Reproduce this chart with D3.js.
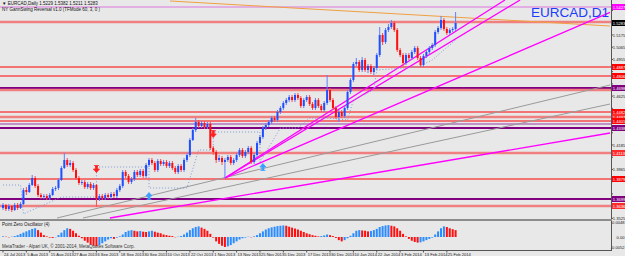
<!DOCTYPE html>
<html>
<head>
<meta charset="utf-8">
<script src="https://cdn.jsdelivr.net/npm/d3@7/dist/d3.min.js"></script>
<style>
  body { margin: 0; background: #e8e8e8; }
  #chart { width: 625px; height: 256px; }
  text { font-family: "Liberation Sans", Arial, sans-serif; }
</style>
</head>
<body>
<div id="chart"></div>
<script>
// EURCAD daily bars, 24 Jul 2013 .. end of Feb 2014
var opens = [
    1.3618, 1.3645, 1.3609, 1.3636, 1.3600, 1.3645, 1.3618, 1.3654, 1.3780, 1.3762,
    1.3825, 1.3888, 1.3816, 1.3735, 1.3717, 1.3726, 1.3708, 1.3735, 1.3789, 1.3798,
    1.3870, 1.3978, 1.4050, 1.4005, 1.4023, 1.3960, 1.3888, 1.3843, 1.3852, 1.3807,
    1.3834, 1.3798, 1.3825, 1.3699, 1.3726, 1.3708, 1.3735, 1.3717, 1.3744, 1.3726,
    1.3780, 1.3816, 1.3942, 1.3906, 1.3852, 1.3879, 1.3942, 1.3915, 1.3951, 1.3906,
    1.4005, 1.4050, 1.4023, 1.3960, 1.4041, 1.4014, 1.4032, 1.3996, 1.4023, 1.3978,
    1.3942, 1.3996, 1.3960, 1.4050, 1.4095, 1.4230, 1.4320, 1.4392, 1.4356, 1.4383,
    1.4347, 1.4374, 1.4158, 1.4122, 1.4050, 1.4068, 1.4032, 1.4050, 1.4077, 1.4023,
    1.4050, 1.4095, 1.4140, 1.4086, 1.4122, 1.4158, 1.4032, 1.4095, 1.4203, 1.4257,
    1.4338, 1.4365, 1.4392, 1.4428, 1.4410, 1.4482, 1.4518, 1.4563, 1.4590, 1.4617,
    1.4590, 1.4635, 1.4608, 1.4536, 1.4590, 1.4617, 1.4554, 1.4518, 1.4590, 1.4536,
    1.4500, 1.4563, 1.4680, 1.4590, 1.4518, 1.4437, 1.4482, 1.4446, 1.4518, 1.4662,
    1.4770, 1.4914, 1.4932, 1.4860, 1.4950, 1.4860, 1.4896, 1.4842, 1.4878, 1.4995,
    1.5175, 1.5112, 1.5220, 1.5247, 1.5283, 1.5220, 1.5040, 1.4995, 1.4923, 1.4995,
    1.4968, 1.5022, 1.5058, 1.4968, 1.4905, 1.4986, 1.5022, 1.5058, 1.5085, 1.5202,
    1.5238, 1.5310, 1.5229, 1.5193, 1.5220, 1.5229
];
var highs = [
    1.3663, 1.3654, 1.3654, 1.3645, 1.3663, 1.3663, 1.3672, 1.3798, 1.3807, 1.3843,
    1.3915, 1.3906, 1.3834, 1.3753, 1.3744, 1.3744, 1.3753, 1.3807, 1.3816, 1.3888,
    1.3996, 1.4113, 1.4068, 1.4050, 1.4041, 1.3978, 1.3906, 1.3870, 1.3870, 1.3852,
    1.3852, 1.3843, 1.3834, 1.3744, 1.3744, 1.3753, 1.3753, 1.3762, 1.3762, 1.3798,
    1.3834, 1.3960, 1.3960, 1.3924, 1.3897, 1.3960, 1.3960, 1.3969, 1.3969, 1.4023,
    1.4068, 1.4068, 1.4041, 1.4059, 1.4059, 1.4050, 1.4050, 1.4041, 1.4041, 1.3996,
    1.4014, 1.4014, 1.4068, 1.4113, 1.4248, 1.4338, 1.4428, 1.4410, 1.4401, 1.4401,
    1.4392, 1.4392, 1.4176, 1.4140, 1.4095, 1.4086, 1.4068, 1.4095, 1.4095, 1.4068,
    1.4113, 1.4158, 1.4158, 1.4140, 1.4176, 1.4176, 1.4113, 1.4221, 1.4275, 1.4356,
    1.4383, 1.4410, 1.4446, 1.4446, 1.4500, 1.4536, 1.4581, 1.4608, 1.4635, 1.4635,
    1.4653, 1.4653, 1.4626, 1.4608, 1.4635, 1.4635, 1.4572, 1.4608, 1.4608, 1.4554,
    1.4581, 1.4815, 1.4698, 1.4608, 1.4536, 1.4500, 1.4500, 1.4536, 1.4680, 1.4788,
    1.4932, 1.4968, 1.4950, 1.4977, 1.4968, 1.4914, 1.4914, 1.4896, 1.5013, 1.5247,
    1.5193, 1.5238, 1.5274, 1.5310, 1.5301, 1.5238, 1.5058, 1.5013, 1.5013, 1.5013,
    1.5040, 1.5076, 1.5076, 1.4986, 1.5004, 1.5040, 1.5076, 1.5103, 1.5220, 1.5256,
    1.5346, 1.5328, 1.5247, 1.5238, 1.5247, 1.5382
];
var lows = [
    1.3600, 1.3591, 1.3591, 1.3582, 1.3591, 1.3600, 1.3609, 1.3645, 1.3735, 1.3753,
    1.3816, 1.3798, 1.3717, 1.3699, 1.3699, 1.3690, 1.3690, 1.3726, 1.3771, 1.3780,
    1.3861, 1.3969, 1.3987, 1.3987, 1.3942, 1.3870, 1.3825, 1.3825, 1.3789, 1.3789,
    1.3780, 1.3780, 1.3627, 1.3681, 1.3690, 1.3690, 1.3699, 1.3699, 1.3708, 1.3708,
    1.3762, 1.3798, 1.3888, 1.3834, 1.3834, 1.3861, 1.3897, 1.3897, 1.3888, 1.3888,
    1.3987, 1.4005, 1.3942, 1.3942, 1.3996, 1.3996, 1.3978, 1.3978, 1.3960, 1.3924,
    1.3924, 1.3942, 1.3942, 1.4032, 1.4077, 1.4221, 1.4302, 1.4338, 1.4338, 1.4329,
    1.4329, 1.4140, 1.4095, 1.4023, 1.4032, 1.4005, 1.3888, 1.4032, 1.4005, 1.4005,
    1.4032, 1.4077, 1.4068, 1.4068, 1.4104, 1.4014, 1.4014, 1.4077, 1.4185, 1.4239,
    1.4320, 1.4347, 1.4374, 1.4392, 1.4392, 1.4464, 1.4500, 1.4545, 1.4572, 1.4572,
    1.4572, 1.4590, 1.4518, 1.4518, 1.4572, 1.4536, 1.4500, 1.4500, 1.4518, 1.4482,
    1.4482, 1.4545, 1.4572, 1.4500, 1.4419, 1.4392, 1.4428, 1.4428, 1.4500, 1.4644,
    1.4752, 1.4896, 1.4842, 1.4842, 1.4842, 1.4833, 1.4824, 1.4815, 1.4860, 1.4977,
    1.5085, 1.5094, 1.5202, 1.5229, 1.5202, 1.5022, 1.4977, 1.4896, 1.4905, 1.4950,
    1.4950, 1.5004, 1.4950, 1.4887, 1.4887, 1.4968, 1.5004, 1.5040, 1.5067, 1.5184,
    1.5220, 1.5211, 1.5175, 1.5175, 1.5202, 1.5211
];
var closes = [
    1.3645, 1.3609, 1.3636, 1.3600, 1.3645, 1.3618, 1.3654, 1.3780, 1.3762, 1.3825,
    1.3888, 1.3816, 1.3735, 1.3717, 1.3726, 1.3708, 1.3735, 1.3789, 1.3798, 1.3870,
    1.3978, 1.4050, 1.4005, 1.4023, 1.3960, 1.3888, 1.3843, 1.3852, 1.3807, 1.3834,
    1.3798, 1.3825, 1.3699, 1.3726, 1.3708, 1.3735, 1.3717, 1.3744, 1.3726, 1.3780,
    1.3816, 1.3942, 1.3906, 1.3852, 1.3879, 1.3942, 1.3915, 1.3951, 1.3906, 1.4005,
    1.4050, 1.4023, 1.3960, 1.4041, 1.4014, 1.4032, 1.3996, 1.4023, 1.3978, 1.3942,
    1.3996, 1.3960, 1.4050, 1.4095, 1.4230, 1.4320, 1.4392, 1.4356, 1.4383, 1.4347,
    1.4374, 1.4158, 1.4122, 1.4050, 1.4068, 1.4032, 1.4050, 1.4077, 1.4023, 1.4050,
    1.4095, 1.4140, 1.4086, 1.4122, 1.4158, 1.4032, 1.4095, 1.4203, 1.4257, 1.4338,
    1.4365, 1.4392, 1.4428, 1.4410, 1.4482, 1.4518, 1.4563, 1.4590, 1.4617, 1.4590,
    1.4635, 1.4608, 1.4536, 1.4590, 1.4617, 1.4554, 1.4518, 1.4590, 1.4536, 1.4500,
    1.4563, 1.4680, 1.4590, 1.4518, 1.4437, 1.4482, 1.4446, 1.4518, 1.4662, 1.4770,
    1.4914, 1.4932, 1.4860, 1.4950, 1.4860, 1.4896, 1.4842, 1.4878, 1.4995, 1.5175,
    1.5112, 1.5220, 1.5247, 1.5283, 1.5220, 1.5040, 1.4995, 1.4923, 1.4995, 1.4968,
    1.5022, 1.5058, 1.4968, 1.4905, 1.4986, 1.5022, 1.5058, 1.5085, 1.5202, 1.5238,
    1.5310, 1.5229, 1.5193, 1.5220, 1.5229, 1.5283
];

// Point Zero Oscillator (4)
var oscValues = [
    0.0002, 0.0001, -0.0001, 0.0001, 0.0003, 0.0006, 0.0010, 0.0014, 0.0018, 0.0022,
    0.0026, 0.0028, 0.0022, 0.0014, 0.0006, 0.0002, -0.0002, -0.0003, -0.0001, 0.0006,
    0.0014, 0.0022, 0.0028, 0.0026, 0.0020, 0.0012, 0.0004, -0.0004, -0.0012, -0.0018,
    -0.0024, -0.0028, -0.0030, -0.0026, -0.0020, -0.0014, -0.0008, -0.0004, -0.0006, -0.0002,
    0.0002, 0.0008, 0.0016, 0.0020, 0.0022, 0.0020, 0.0018, 0.0019, 0.0017, 0.0016,
    0.0018, 0.0020, 0.0017, 0.0014, 0.0012, 0.0008, 0.0006, 0.0004, 0.0003, -0.0001,
    0.0001, 0.0003, 0.0008, 0.0014, 0.0022, 0.0028, 0.0032, 0.0034, 0.0030, 0.0026,
    0.0020, 0.0010, -0.0002, -0.0014, -0.0022, -0.0028, -0.0032, -0.0030, -0.0026, -0.0020,
    -0.0014, -0.0008, -0.0004, -0.0002, 0.0001, -0.0001, 0.0002, 0.0006, 0.0012, 0.0018,
    0.0024, 0.0028, 0.0031, 0.0033, 0.0035, 0.0036, 0.0037, 0.0036, 0.0033, 0.0030,
    0.0027, 0.0024, 0.0020, 0.0016, 0.0012, 0.0009, 0.0006, 0.0004, 0.0002, 0.0003,
    0.0005, 0.0008, 0.0006, 0.0003, -0.0003, -0.0010, -0.0014, -0.0010, -0.0004, 0.0004,
    0.0012, 0.0020, 0.0022, 0.0021, 0.0020, 0.0018, 0.0019, 0.0022, 0.0026, 0.0032,
    0.0035, 0.0037, 0.0038, 0.0036, 0.0034, 0.0028, 0.0020, 0.0010, 0.0002, -0.0006,
    -0.0012, -0.0016, -0.0018, -0.0017, -0.0014, -0.0010, -0.0006, -0.0002, 0.0008, 0.0018,
    0.0028, 0.0034, 0.0032, 0.0028, 0.0025, 0.0022
];

// GannSwing stepped line (bar index, price)
var swingIndex = [0, 6, 7, 10, 20, 32, 32, 50, 50, 63, 67, 72, 72, 88, 88, 95, 101, 105, 111, 118, 120, 127, 128, 142, 147, 155];
var swingPrice = [1.3825, 1.3825, 1.3564, 1.3600, 1.3717, 1.3717, 1.3987, 1.3987, 1.3798, 1.3798,
    1.4140, 1.4140, 1.4302, 1.4302, 1.4032, 1.4338, 1.4338, 1.4428, 1.4428, 1.4410,
    1.4590, 1.4680, 1.4860, 1.4887, 1.4950, 1.5130];

// swing arrows
var arrowIndex = [32, 50, 72, 89];
var arrowPrice = [1.3969, 1.3726, 1.4284, 1.3987];
var arrowDir = ["down", "up", "down", "up"];

// horizontal levels
var levelPrices = [1.5427, 1.5292, 1.4887, 1.4806, 1.4698, 1.4680, 1.4482, 1.4437, 1.4401, 1.4374, 1.4338, 1.4113, 1.3879, 1.3699, 1.3636];
var levelKinds = ["violet", "salmon", "red", "red", "purple", "salmon", "red", "salmon", "red", "lilac", "purple", "salmon", "red", "purple", "salmon"];

// trend lines (from bar/price to bar/price)
var trendFromIndex = [18.5, 27.4, 57.2, 76, 76, 76, 36.6];
var trendFromPrice = [1.3528, 1.3528, 1.5481, 1.3888, 1.3888, 1.3888, 1.3528];
var trendToIndex = [207.9, 207.9, 207.9, 171.9, 177.1, 207.9, 207.9];
var trendToPrice = [1.4725, 1.4554, 1.5256, 1.5490, 1.5490, 1.5378, 1.4293];
var trendKinds = ["gray", "gray", "orange", "magenta", "magenta", "magenta", "magenta"];

var priceTicks = [1.5395, 1.5285, 1.5175, 1.5065, 1.4955, 1.4845, 1.4735, 1.4625, 1.4515, 1.4405, 1.4295, 1.4185, 1.4075, 1.3965, 1.3855, 1.3745, 1.3635, 1.3525];
var oscTicks = [0.0048, 0, -0.0052];
var oscTickText = ["0.0048", "0.00", "-0.0052"];

var dateIndex = [0, 8, 16, 24, 32, 40, 48, 56, 64, 72, 80, 88, 96, 104, 112, 120, 128, 136, 144, 152];
var dateLabels = ["24 Jul 2013", "5 Aug 2013", "15 Aug 2013", "27 Aug 2013", "6 Sep 2013", "18 Sep 2013",
    "30 Sep 2013", "10 Oct 2013", "22 Oct 2013", "1 Nov 2013", "13 Nov 2013", "25 Nov 2013", "5 Dec 2013",
    "17 Dec 2013", "30 Dec 2013", "10 Jan 2014", "22 Jan 2014", "3 Feb 2014", "13 Feb 2014", "25 Feb 2014"];

var levelStyle = {
    red: { stroke: "#ff0000", width: 1, label: "#ff0000" },
    salmon: { stroke: "#f08080", width: 2.5, label: "#ff2a2a" },
    purple: { stroke: "#800080", width: 2, label: "#800080" },
    lilac: { stroke: "#c090c8", width: 2, label: "#8a2a8a" },
    violet: { stroke: "#dd77dd", width: 1, label: "#ff00ff" }
};
var trendStyle = {
    gray: { stroke: "#9a9a9a", width: 1 },
    orange: { stroke: "#f0a040", width: 1 },
    magenta: { stroke: "#ff00ff", width: 1.3 }
};

function drawChart() {
    var width = 625, height = 256;
    var plotRight = 611, mainBottom = 219, oscBottom = 250;
    var fmt = d3.format(".4f");
    var small = 4.1;

    var svg = d3.select("#chart").append("svg")
        .attr("width", width)
        .attr("height", height);

    svg.append("rect").attr("width", width).attr("height", height).attr("fill", "#e8e8e8");

    var xScale = d3.scaleLinear().domain([0, 155]).range([3, 455.6]);
    var yScale = d3.scaleLinear().domain([1.3528, 1.5472]).range([218, 2]);
    var oscScale = d3.scaleLinear().domain([-0.0052, 0.0048]).range([253.25, 222]);

    svg.append("clipPath").attr("id", "mainClip")
        .append("rect").attr("x", 0).attr("y", 0).attr("width", plotRight).attr("height", mainBottom);
    var main = svg.append("g").attr("clip-path", "url(#mainClip)");

    // levels
    main.selectAll(".level")
        .data(levelPrices)
        .enter()
        .append("line")
        .attr("x1", 0).attr("x2", plotRight)
        .attr("y1", d => yScale(d)).attr("y2", d => yScale(d))
        .attr("stroke", (d, i) => levelStyle[levelKinds[i]].stroke)
        .attr("stroke-width", (d, i) => levelStyle[levelKinds[i]].width);

    // trend lines
    main.selectAll(".trend")
        .data(trendKinds)
        .enter()
        .append("line")
        .attr("x1", (d, i) => xScale(trendFromIndex[i]))
        .attr("y1", (d, i) => yScale(trendFromPrice[i]))
        .attr("x2", (d, i) => xScale(trendToIndex[i]))
        .attr("y2", (d, i) => yScale(trendToPrice[i]))
        .attr("stroke", d => trendStyle[d].stroke)
        .attr("stroke-width", d => trendStyle[d].width);

    // swing dotted line
    var swingLine = d3.line()
        .x(d => xScale(d))
        .y((d, i) => yScale(swingPrice[i]));
    main.append("path")
        .attr("d", swingLine(swingIndex))
        .attr("fill", "none")
        .attr("stroke", "#7f9cd6")
        .attr("stroke-width", 1)
        .attr("stroke-dasharray", "1,2");

    // candles
    var bars = main.selectAll(".bar")
        .data(closes)
        .enter()
        .append("g");
    bars.append("rect")
        .attr("x", (d, i) => xScale(i) - 0.5)
        .attr("width", 1)
        .attr("y", (d, i) => yScale(highs[i]))
        .attr("height", (d, i) => yScale(lows[i]) - yScale(highs[i]))
        .attr("fill", (d, i) => d >= opens[i] ? "#5f7fff" : "#ff4a4a");
    bars.append("rect")
        .attr("x", (d, i) => xScale(i) - 1)
        .attr("width", 2)
        .attr("y", (d, i) => yScale(Math.max(d, opens[i])))
        .attr("height", (d, i) => Math.max(1, Math.abs(yScale(d) - yScale(opens[i]))))
        .attr("fill", (d, i) => d >= opens[i] ? "#1f4fff" : "#ff1010");

    // arrows
    main.selectAll(".arrow")
        .data(arrowIndex)
        .enter()
        .append("path")
        .attr("transform", (d, i) => "translate(" + xScale(d) + "," + yScale(arrowPrice[i]) + ")" + (arrowDir[i] === "up" ? " rotate(180)" : ""))
        .attr("d", "M-2.5,-3.5 L2.5,-3.5 M-1,-3 L1,-3 L1,0 L3,0 L0,3.5 L-3,0 L-1,0 Z")
        .attr("fill", (d, i) => arrowDir[i] === "up" ? "#3aa0ff" : "#ff2020")
        .attr("stroke", (d, i) => arrowDir[i] === "up" ? "#3aa0ff" : "#ff2020")
        .attr("stroke-width", 0.8);

    // panel frames
    svg.append("line").attr("x1", plotRight + 0.5).attr("x2", plotRight + 0.5).attr("y1", 0).attr("y2", oscBottom)
        .attr("stroke", "#555").attr("stroke-width", 1);
    svg.append("rect").attr("x", 0).attr("y", mainBottom).attr("width", plotRight + 1).attr("height", 2).attr("fill", "#8c8c8c");
    svg.append("line").attr("x1", 0).attr("x2", plotRight + 1).attr("y1", oscBottom + 0.5).attr("y2", oscBottom + 0.5)
        .attr("stroke", "#555");

    // price axis ticks (the ones hidden under a level tag are skipped)
    var tagYs = levelPrices.concat([closes[closes.length - 1]]).map(p => yScale(p));
    var visibleTicks = priceTicks.filter(p => tagYs.every(t => Math.abs(t - yScale(p)) > 5.5));
    var axis = svg.append("g");
    axis.selectAll(".ptick")
        .data(visibleTicks)
        .enter()
        .append("text")
        .attr("x", 612.8)
        .attr("y", d => yScale(d) + 1.5)
        .attr("font-size", small)
        .attr("fill", "#222")
        .text(d => fmt(d));
    axis.selectAll(".ptickline")
        .data(priceTicks)
        .enter()
        .append("line")
        .attr("x1", plotRight).attr("x2", plotRight + 2)
        .attr("y1", d => yScale(d)).attr("y2", d => yScale(d))
        .attr("stroke", "#555");

    // level tags on the axis, skipping ones that sit on top of a previous tag
    var shownTags = [];
    levelPrices.forEach(function(p, i) {
        var y = yScale(p);
        if (shownTags.every(s => Math.abs(s.y - y) >= 3.5) && Math.abs(y - yScale(closes[closes.length - 1])) >= 3.5) {
            shownTags.push({ y: y, price: p, kind: levelKinds[i] });
        }
    });
    var tags = axis.selectAll(".tag")
        .data(shownTags)
        .enter()
        .append("g")
        .attr("transform", d => "translate(" + (plotRight + 1) + "," + d.y + ")");
    tags.append("rect").attr("x", 0).attr("y", -3).attr("width", 13).attr("height", 6)
        .attr("fill", d => levelStyle[d.kind].label);
    tags.append("text").attr("x", 0.8).attr("y", 1.5).attr("font-size", small)
        .attr("fill", "#fff").text(d => fmt(d.price));

    // current price tag
    var lastClose = closes[closes.length - 1];
    var bid = axis.append("g").attr("transform", "translate(" + (plotRight + 1) + "," + yScale(lastClose) + ")");
    bid.append("rect").attr("x", 0).attr("y", -3).attr("width", 13).attr("height", 6).attr("fill", "#000");
    bid.append("text").attr("x", 0.8).attr("y", 1.5).attr("font-size", small)
        .attr("fill", "#fff").text(fmt(lastClose));

    // oscillator
    svg.selectAll(".osc")
        .data(oscValues)
        .enter()
        .append("rect")
        .attr("x", (d, i) => xScale(i) - 1)
        .attr("width", 2)
        .attr("y", d => Math.min(oscScale(d), oscScale(0)))
        .attr("height", d => Math.abs(oscScale(d) - oscScale(0)))
        .attr("fill", (d, i) => (i > 0 && d < oscValues[i - 1]) ? "#ff1010" : "#2a8cff");

    axis.selectAll(".otick")
        .data(oscTicks)
        .enter()
        .append("text")
        .attr("x", 624.5)
        .attr("text-anchor", "end")
        .attr("y", d => Math.min(oscScale(d), 247.5) + 1.5)
        .attr("font-size", small)
        .attr("fill", "#222")
        .text((d, i) => oscTickText[i]);

    // date axis
    var dates = svg.append("g");
    dates.selectAll(".dtick")
        .data(dateIndex)
        .enter()
        .append("line")
        .attr("x1", d => xScale(d)).attr("x2", d => xScale(d))
        .attr("y1", oscBottom).attr("y2", oscBottom + 2.5)
        .attr("stroke", "#555");
    dates.selectAll(".dlabel")
        .data(dateLabels)
        .enter()
        .append("text")
        .attr("x", (d, i) => xScale(dateIndex[i]) + 1)
        .attr("y", 255.5)
        .attr("font-size", small)
        .attr("fill", "#222")
        .text(d => d);

    // captions
    svg.append("text").attr("x", 2).attr("y", 5).attr("font-size", 4.5).attr("fill", "#111")
        .text("\u25BC EURCAD,Daily  " + fmt(opens[155]) + " " + fmt(highs[155]) + " " + fmt(lows[155]) + " " + fmt(lastClose));
    svg.append("text").attr("x", 2).attr("y", 10.5).attr("font-size", 4.5).attr("fill", "#111")
        .text("NY GannSwing Reversal v1.0 (TFMode 60, 3, 0 )");
    svg.append("text").attr("x", 609).attr("y", 17).attr("text-anchor", "end").attr("font-size", 13.5)
        .attr("fill", "#1a3cff").text("EURCAD,D1");
    svg.append("text").attr("x", 2).attr("y", 226).attr("font-size", 4.5).attr("fill", "#111")
        .text("Point Zero Oscillator (4)");
    svg.append("text").attr("x", 2).attr("y", 247.5).attr("font-size", 4.5).attr("fill", "#333")
        .text("MetaTrader - Alpari UK, \u00A9 2001-2014, MetaQuotes Software Corp.");
}

drawChart();
</script>
</body>
</html>
